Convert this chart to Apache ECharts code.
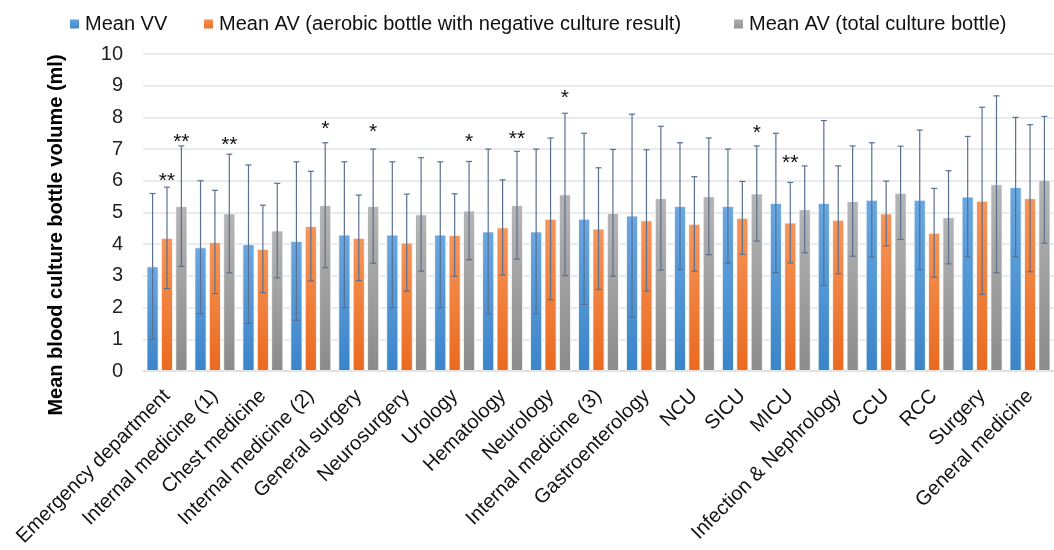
<!DOCTYPE html>
<html>
<head>
<meta charset="utf-8">
<script src="https://cdn.jsdelivr.net/npm/echarts@6/dist/echarts.min.js"></script>
<style>
  html, body { margin: 0; padding: 0; background: #fff; }
  #main { width: 1054px; height: 550px; }
</style>
</head>
<body>
<div id="main"></div>
<script>
var categories = ['Emergency department', 'Internal medicine (1)', 'Chest medicine', 'Internal medicine (2)',
  'General surgery', 'Neurosurgery', 'Urology', 'Hematology', 'Neurology', 'Internal medicine (3)',
  'Gastroenterology', 'NCU', 'SICU', 'MICU', 'Infection & Nephrology', 'CCU', 'RCC', 'Surgery', 'General medicine'];
var seriesNames = ['Mean VV', 'Mean AV (aerobic bottle with negative culture result)', 'Mean AV (total culture bottle)'];

var meanVV = [3.3, 3.9, 4.0, 4.1, 4.3, 4.3, 4.3, 4.4, 4.4, 4.8, 4.9, 5.2, 5.2, 5.3, 5.3, 5.4, 5.4, 5.5, 5.8];
var sdVV = [2.3, 2.1, 2.5, 2.5, 2.3, 2.3, 2.3, 2.6, 2.6, 2.7, 3.2, 2.0, 1.8, 2.2, 2.6, 1.8, 2.2, 1.9, 2.2];
var meanAVneg = [4.2, 4.07, 3.85, 4.57, 4.2, 4.05, 4.29, 4.53, 4.8, 4.49, 4.75, 4.64, 4.83, 4.68, 4.77, 4.97, 4.36, 5.37, 5.45];
var sdAVneg = [1.6, 1.63, 1.38, 1.73, 1.35, 1.53, 1.3, 1.5, 2.55, 1.92, 2.23, 1.49, 1.15, 1.27, 1.7, 1.02, 1.4, 2.95, 2.32];
var meanAVtot = [5.2, 4.97, 4.43, 5.23, 5.2, 4.94, 5.06, 5.23, 5.57, 4.99, 5.45, 5.51, 5.6, 5.1, 5.36, 5.62, 4.85, 5.89, 6.03];
var sdAVtot = [1.9, 1.87, 1.49, 1.97, 1.8, 1.79, 1.55, 1.7, 2.56, 2.0, 2.27, 1.84, 1.5, 1.37, 1.74, 1.47, 1.47, 2.79, 2.0];

// significance marks: [category index, series index, level, text]
var starMarks = [
  [0, 1, 6.13, '**'], [0, 2, 7.36, '**'], [1, 2, 7.29, '**'], [3, 2, 7.78, '*'], [4, 2, 7.69, '*'],
  [6, 2, 7.39, '*'], [7, 2, 7.48, '**'], [8, 2, 8.76, '*'], [12, 2, 7.67, '*'], [13, 1, 6.71, '**']
];
var yTicks = [0, 1, 2, 3, 4, 5, 6, 7, 8, 9, 10];

var means = [meanVV, meanAVneg, meanAVtot];
var sds = [sdVV, sdAVneg, sdAVtot];
var barWidth = 12;
var barGapPx = 2.4;
var fontFam = '"Liberation Sans", Arial, sans-serif';

var grads = [
  ['#6aa8e2', '#3a84c8'],
  ['#f6965a', '#e96a1f'],
  ['#b5b5b5', '#8b8b8b']
];

function grad(i) {
  return new echarts.graphic.LinearGradient(0, 0, 0, 1, [
    { offset: 0, color: grads[i][0] },
    { offset: 1, color: grads[i][1] }
  ]);
}

function barOffset(s) {
  return (s - 1) * (barWidth + barGapPx);
}

var chart = echarts.init(document.getElementById('main'));

var series = [];
for (var s = 0; s < 3; s++) {
  series.push({
    name: seriesNames[s],
    type: 'bar',
    barWidth: barWidth,
    barGap: (barGapPx / barWidth * 100) + '%',
    itemStyle: { color: grad(s), borderColor: '#ffffff', borderWidth: 0.8 },
    data: means[s]
  });
}

// error bars
for (var s2 = 0; s2 < 3; s2++) {
  (function (si) {
    var errData = [];
    for (var i = 0; i < categories.length; i++) {
      errData.push([i, means[si][i] - sds[si][i], means[si][i] + sds[si][i]]);
    }
    series.push({
      type: 'custom',
      name: seriesNames[si] + ' SD',
      silent: true,
      z: 5,
      renderItem: function (params, api) {
        var lo = api.coord([api.value(0), api.value(1)]);
        var hi = api.coord([api.value(0), api.value(2)]);
        var x = lo[0] + barOffset(si);
        var cap = 3;
        var st = { stroke: '#5b6f8f', lineWidth: 1.2 };
        return {
          type: 'group',
          children: [
            { type: 'line', shape: { x1: x, y1: lo[1], x2: x, y2: hi[1] }, style: st },
            { type: 'line', shape: { x1: x - cap, y1: hi[1], x2: x + cap, y2: hi[1] }, style: st },
            { type: 'line', shape: { x1: x - cap, y1: lo[1], x2: x + cap, y2: lo[1] }, style: st }
          ]
        };
      },
      data: errData
    });
  })(s2);
}

// asterisks
series.push({
  type: 'custom',
  name: 'stars',
  silent: true,
  z: 6,
  renderItem: function (params, api) {
    var p = api.coord([api.value(0), api.value(2)]);
    var si = api.value(1);
    return {
      type: 'text',
      x: p[0] + barOffset(si),
      y: p[1] + 5,
      style: {
        text: starMarks[params.dataIndex][3],
        fill: '#111',
        font: '21px ' + fontFam,
        align: 'center',
        verticalAlign: 'middle'
      }
    };
  },
  data: starMarks.map(function (m) { return [m[0], m[1], m[2]]; })
});

var legendLeft = [63, 197, 727];
var legends = seriesNames.map(function (n, i) {
  return {
    data: [n],
    left: legendLeft[i],
    top: 9,
    icon: 'rect',
    itemWidth: 11,
    itemHeight: 11,
    textStyle: { color: '#111', fontSize: 20, fontFamily: fontFam }
  };
});

var option = {
  backgroundColor: '#ffffff',
  animation: false,
  legend: legends,
  grid: { left: 143, top: 54, width: 927, height: 317 },
  xAxis: {
    type: 'category',
    data: categories,
    axisTick: { show: false },
    axisLine: { lineStyle: { color: '#d9dde3', width: 1.5 } },
    axisLabel: {
      interval: 0,
      rotate: 45,
      margin: 22,
      color: '#111',
      fontSize: 20,
      fontFamily: fontFam
    }
  },
  yAxis: {
    type: 'value',
    min: yTicks[0],
    max: yTicks[yTicks.length - 1],
    interval: 1,
    axisLine: { show: false },
    axisTick: { show: false },
    splitLine: { lineStyle: { color: '#e1e5eb', width: 1.5 } },
    axisLabel: {
      margin: 20,
      color: '#222',
      fontSize: 20,
      fontFamily: fontFam
    }
  },
  graphic: [{
    type: 'text',
    x: 56,
    y: 235,
    rotation: Math.PI / 2,
    style: {
      text: 'Mean blood culture bottle volume (ml)',
      fill: '#000',
      font: 'bold 20px ' + fontFam,
      align: 'center',
      verticalAlign: 'middle'
    }
  }],
  series: series
};

chart.setOption(option);
</script>
</body>
</html>
